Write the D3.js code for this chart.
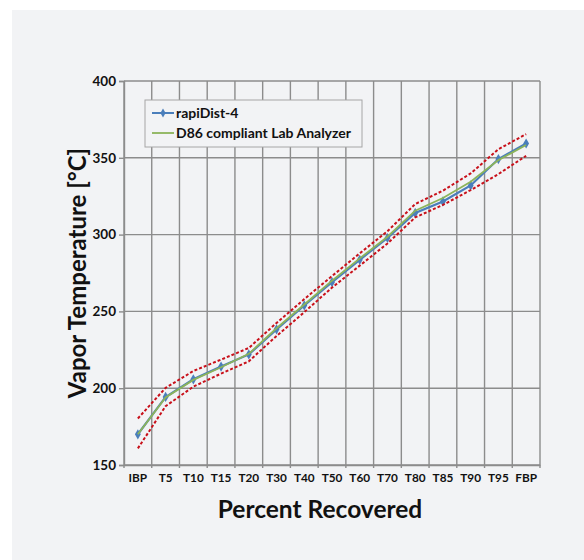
<!DOCTYPE html>
<html>
<head>
<meta charset="utf-8">
<script src="https://cdn.jsdelivr.net/npm/d3@7"></script>
<style>
  html, body { margin: 0; padding: 0; background: #ffffff; }
  svg { display: block; font-family: Lato, "Open Sans", sans-serif; }
</style>
</head>
<body>
<div id="chart"></div>
<script>
// categories and series
const categories = ["IBP", "T5", "T10", "T15", "T20", "T30", "T40", "T50", "T60", "T70", "T80", "T85", "T90", "T95", "FBP"];
const rapiDist = [170, 194.3, 205.8, 214.1, 222, 238.3, 253.9, 269, 283.6, 297.8, 314.1, 321.6, 332, 349.2, 359.3];
const d86Lab = [170, 194, 205.4, 213.6, 222.4, 239, 254.5, 270, 284.5, 298.6, 315.6, 323.8, 334.4, 348.5, 358.3];
const upperLimit = [180.3, 200.2, 211.2, 218.6, 226.2, 242.5, 258, 273, 287.8, 302.2, 319.9, 328.6, 339.8, 355.6, 365.4];
const lowerLimit = [160.8, 188.3, 201, 209.5, 217.5, 234, 249.5, 265.5, 279.8, 294.2, 311.2, 319.3, 329, 339.4, 351.3];
const yTicks = [150, 200, 250, 300, 350, 400];

const width = 584, height = 560;
const margin = { top: 81, right: 44, bottom: 95, left: 124 };

const svg = d3.select("#chart")
    .append("svg")
    .attr("width", width)
    .attr("height", height);

// chart area background (white strip on top and left like the original)
svg.append("rect")
    .attr("x", 12).attr("y", 10)
    .attr("width", width - 12).attr("height", height - 10)
    .attr("fill", "#f2f3f5");

const x = d3.scaleBand()
    .domain(categories)
    .range([margin.left, width - margin.right])
    .padding(0);

const y = d3.scaleLinear()
    .domain([150, 400])
    .range([height - margin.bottom, margin.top]);

const gridColor = "#8c8c8c";

// horizontal gridlines
svg.append("g")
    .selectAll("line")
    .data(yTicks)
    .enter()
    .append("line")
    .attr("x1", margin.left)
    .attr("x2", width - margin.right)
    .attr("y1", d => y(d))
    .attr("y2", d => y(d))
    .attr("stroke", gridColor)
    .attr("stroke-width", 1.4);

// vertical gridlines at category boundaries
const bounds = categories.map(c => x(c)).concat([x(categories[categories.length - 1]) + x.bandwidth()]);
svg.append("g")
    .selectAll("line")
    .data(bounds)
    .enter()
    .append("line")
    .attr("x1", d => d)
    .attr("x2", d => d)
    .attr("y1", margin.top)
    .attr("y2", height - margin.bottom + 3)
    .attr("stroke", gridColor)
    .attr("stroke-width", 1.4);

// y axis
const yAxis = svg.append("g")
    .attr("transform", `translate(${margin.left},0)`)
    .call(d3.axisLeft(y).tickValues(yTicks).tickSize(5).tickPadding(3));
yAxis.select(".domain").attr("stroke", gridColor).attr("stroke-width", 1.4);
yAxis.selectAll(".tick line").attr("stroke", gridColor).attr("stroke-width", 1.4);
yAxis.selectAll(".tick text")
    .attr("font-family", "Lato, sans-serif")
    .attr("font-weight", "bold")
    .attr("font-size", 13.5)
    .attr("fill", "#111");

// x axis labels
const xAxis = svg.append("g")
    .attr("transform", `translate(0,${height - margin.bottom})`)
    .call(d3.axisBottom(x).tickSize(0).tickPadding(9));
xAxis.select(".domain").attr("stroke", gridColor).attr("stroke-width", 1.4);
xAxis.selectAll(".tick text")
    .attr("font-family", "Lato, sans-serif")
    .attr("font-weight", "bold")
    .attr("font-size", 11.8)
    .attr("fill", "#111");

const cx = c => x(c) + x.bandwidth() / 2;
const line = d3.line()
    .x((d, i) => cx(categories[i]))
    .y(d => y(d));

// series
svg.append("path")
    .datum(rapiDist)
    .attr("d", line)
    .attr("fill", "none")
    .attr("stroke", "#4a7ebb")
    .attr("stroke-width", 2.2);

svg.append("g")
    .selectAll("path")
    .data(rapiDist)
    .enter()
    .append("path")
    .attr("d", d3.symbol().type(d3.symbolDiamond).size(30))
    .attr("transform", (d, i) => `translate(${cx(categories[i])},${y(d)})`)
    .attr("fill", "#4a7ebb");

svg.append("path")
    .datum(d86Lab)
    .attr("d", line)
    .attr("fill", "none")
    .attr("stroke", "#8cb45a")
    .attr("stroke-width", 1.8);

[upperLimit, lowerLimit].forEach(s => {
    svg.append("path")
        .datum(s)
        .attr("d", line)
        .attr("fill", "none")
        .attr("stroke", "#c8101a")
        .attr("stroke-width", 2)
        .attr("stroke-dasharray", "3,2");
});

// legend
const legend = svg.append("g").attr("transform", "translate(145,100)");
legend.append("rect")
    .attr("width", 217).attr("height", 47)
    .attr("fill", "#f2f3f5")
    .attr("stroke", "#a6a6a6")
    .attr("stroke-width", 1);
legend.append("line")
    .attr("x1", 7).attr("x2", 29).attr("y1", 13).attr("y2", 13)
    .attr("stroke", "#4a7ebb").attr("stroke-width", 2);
legend.append("path")
    .attr("d", d3.symbol().type(d3.symbolDiamond).size(24))
    .attr("transform", "translate(18,13)")
    .attr("fill", "#4a7ebb");
legend.append("line")
    .attr("x1", 7).attr("x2", 29).attr("y1", 33).attr("y2", 33)
    .attr("stroke", "#8cb45a").attr("stroke-width", 1.8);
legend.append("text")
    .attr("x", 31).attr("y", 18)
    .attr("font-weight", "bold").attr("font-size", 14).attr("fill", "#111")
    .text("rapiDist-4");
legend.append("text")
    .attr("x", 31).attr("y", 38)
    .attr("font-weight", "bold").attr("font-size", 14).attr("fill", "#111")
    .text("D86 compliant Lab Analyzer");

// axis titles
svg.append("text")
    .attr("x", 320).attr("y", 518)
    .attr("text-anchor", "middle")
    .attr("font-weight", "bold").attr("font-size", 24.5).attr("fill", "#111")
    .text("Percent Recovered");

svg.append("text")
    .attr("transform", "translate(86,273) rotate(-90)")
    .attr("text-anchor", "middle")
    .attr("font-weight", "bold").attr("font-size", 24).attr("fill", "#111")
    .text("Vapor Temperature [°C]");
</script>
</body>
</html>
